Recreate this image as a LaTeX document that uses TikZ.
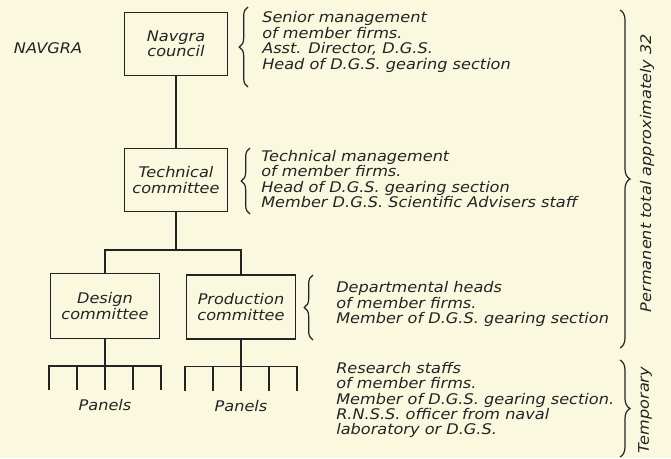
\documentclass[tikz,border=0pt]{standalone}
\usepackage{fontspec}
\setmainfont{DejaVu Sans}[FakeStretch=1.1]
\usetikzlibrary{positioning, calc, decorations.pathreplacing}
\definecolor{paper}{RGB}{251, 248, 224}
\definecolor{ink}{RGB}{35, 35, 35}
\tikzset{
  unit/.style={draw=ink, line width=0.8pt, minimum width=77pt, minimum height=47pt, align=center, inner sep=1pt},
  note/.style={anchor=west, align=left, inner sep=0pt},
  link/.style={draw=ink, line width=1.4pt},
  grp/.style={draw=ink, line width=0.9pt, decorate, decoration={brace, amplitude=6.5pt}},
}

\begin{document}
\begin{tikzpicture}[x=0.75pt, y=-0.75pt, text=ink, font=\itshape\fontsize{11}{11.6}\selectfont]
  \fill[paper] (0,0) rectangle (671,458);
  \useasboundingbox (0,0) rectangle (671,458);

  % the committees
  \node (navgra) at (48,48) {NAVGRA};
  \node[unit] (council) at (176,44) {Navgra\\council};
  \node[unit] (tech) at (176,180) {Technical\\committee};
  \node[unit, minimum width=82pt, minimum height=49pt] (design) at (105,306) {Design\\committee};
  \node[unit, minimum width=82pt, minimum height=48pt] (prod) at (241,307) {Production\\committee};

  \coordinate (split) at (176,250);
  \draw[link] (council) -- (tech);
  \draw[link] (tech) -- (split);
  \draw[link] (design.north) |- (split) -| (prod.north);

  % panels under each committee
  \foreach \c/\p in {design/dpan, prod/ppan} {
    \coordinate (\p) at ($(\c.south)+(0,27)$);
    \draw[link] (\c.south) -- (\p);
    \draw[link] ($(\p)+(-56,24)$) -- ++(0,-24) -- ++(112,0) -- ++(0,24);
    \foreach \k in {-1,0,1}
      \draw[link] ($(\p)+(\k*28,0)$) -- ++(0,24);
    \node (\p lbl) at ($(\p)+(0,39)$) {Panels};
  }

  % who sits where
  \node[note] (n1) at (262,42) {Senior management\\of member firms.\\Asst. Director, D.G.S.\\Head of D.G.S. gearing section};
  \node[note] (n2) at (261,179) {Technical management\\of member firms.\\Head of D.G.S. gearing section\\Member D.G.S. Scientific Advisers staff};
  \node[note] (n3) at (336,304) {Departmental heads\\of member firms.\\Member of D.G.S. gearing section};
  \node[note] (n4) at (336,400) {Research staffs\\of member firms.\\Member of D.G.S. gearing section.\\R.N.S.S. officer from naval\\laboratory or D.G.S.};

  \draw[grp] (248,87) -- (248,7);
  \draw[grp] (250,214) -- (250,148);
  \draw[grp] (313,340) -- (313,275);

  % totals
  \coordinate (ptop) at (620,10);
  \coordinate (pbot) at (620,348);
  \coordinate (ttop) at (620,360);
  \coordinate (tbot) at (620,457);
  \draw[grp, decoration={amplitude=7.5pt}] (ptop) -- (pbot);
  \draw[grp, decoration={amplitude=7.5pt}] (ttop) -- (tbot);
  \node[rotate=90] (perm) at (647,173) {Permanent total approximately 32};
  \node[rotate=90] (temp) at (645,410) {Temporary};
\end{tikzpicture}
\end{document}
